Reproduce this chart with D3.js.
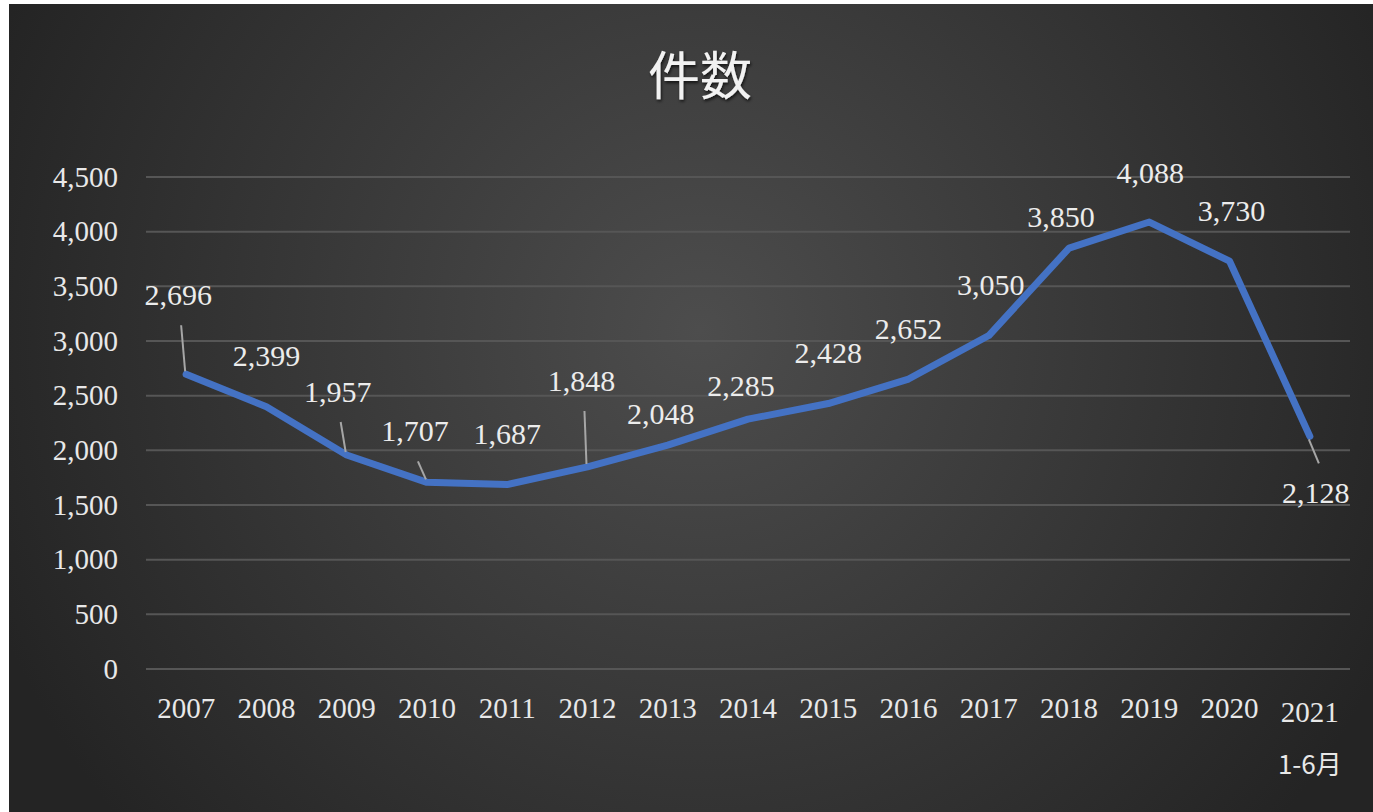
<!DOCTYPE html>
<html>
<head>
<meta charset="utf-8">
<script src="https://cdn.jsdelivr.net/npm/d3@7"></script>
<style>
  body { margin: 0; background: #ffffff; }
  svg { display: block; }
</style>
</head>
<body>
<div id="chart"></div>
<script>
// data
const years = ["2007", "2008", "2009", "2010", "2011", "2012", "2013", "2014",
               "2015", "2016", "2017", "2018", "2019", "2020", "2021"];
const counts = [2696, 2399, 1957, 1707, 1687, 1848, 2048, 2285,
                2428, 2652, 3050, 3850, 4088, 3730, 2128];
const yTicks = [0, 500, 1000, 1500, 2000, 2500, 3000, 3500, 4000, 4500];
const title = "件数";
const lastSub = "1-6月";

// label placement (dx, dy from the point, leader line or not)
const labelPos = [
  [-8, -79, true], [0, -51, false], [-9, -63, true], [-12, -51, true],
  [0, -50, false], [-6, -86, true], [-7, -31, false], [-7, -33, false],
  [0, -50, false], [0, -50, false], [2, -50, false], [-8, -31, false],
  [1, -49, false], [2, -50, false], [6, 57, true]
];

const W = 1373, H = 812;
const margin = { left: 146, right: 23, top: 177, bottom: 143 };

const svg = d3.select("#chart").append("svg")
  .attr("width", W).attr("height", H);

const defs = svg.append("defs");
const grad = defs.append("radialGradient")
  .attr("id", "bg")
  .attr("gradientUnits", "userSpaceOnUse")
  .attr("cx", 700).attr("cy", 330).attr("r", 760);
grad.append("stop").attr("offset", "0%").attr("stop-color", "#4d4d4d");
grad.append("stop").attr("offset", "100%").attr("stop-color", "#242424");

const shadow = defs.append("filter").attr("id", "sh")
  .attr("x", "-20%").attr("y", "-20%").attr("width", "140%").attr("height", "140%");
shadow.append("feDropShadow")
  .attr("dx", 1).attr("dy", 2).attr("stdDeviation", 1.5)
  .attr("flood-color", "#000").attr("flood-opacity", 0.7);

svg.append("rect")
  .attr("x", 9).attr("y", 4).attr("width", W - 9).attr("height", H - 4)
  .attr("fill", "url(#bg)");

const x = d3.scaleBand()
  .domain(years)
  .range([margin.left, W - margin.right]);

const y = d3.scaleLinear()
  .domain([0, 4500])
  .range([H - margin.bottom, margin.top]);

const cx = d => x(d) + x.bandwidth() / 2;

// grid lines
svg.append("g")
  .selectAll("line")
  .data(yTicks)
  .join("line")
  .attr("x1", margin.left).attr("x2", W - margin.right)
  .attr("y1", d => y(d)).attr("y2", d => y(d))
  .attr("stroke", "#565656")
  .attr("stroke-width", 2);

const fontNum = "'Liberation Serif', 'DejaVu Serif', serif";
const fontCjk = "'Noto Sans CJK JP', 'Noto Sans CJK SC', sans-serif";

// y axis labels
svg.append("g")
  .selectAll("text")
  .data(yTicks)
  .join("text")
  .attr("x", 118)
  .attr("y", d => y(d))
  .attr("dy", "0.33em")
  .attr("text-anchor", "end")
  .attr("fill", "#e8e8e8")
  .style("font-family", fontNum)
  .style("font-size", "29px")
  .text(d => d3.format(",")(d));

// x axis labels
svg.append("g")
  .selectAll("text")
  .data(years)
  .join("text")
  .attr("x", d => cx(d))
  .attr("y", (d, i) => i === years.length - 1 ? 712 : 708)
  .attr("dy", "0.33em")
  .attr("text-anchor", "middle")
  .attr("fill", "#e8e8e8")
  .style("font-family", fontNum)
  .style("font-size", "29px")
  .text(d => d);

svg.append("text")
  .attr("x", cx(years[years.length - 1]))
  .attr("y", 765)
  .attr("dy", "0.35em")
  .attr("text-anchor", "middle")
  .attr("fill", "#e8e8e8")
  .style("font-family", fontCjk)
  .style("font-size", "26px")
  .text(lastSub);

// line
const line = d3.line()
  .x(d => cx(d[0]))
  .y(d => y(d[1]));

const pts = years.map((yr, i) => [yr, counts[i]]);

svg.append("path")
  .datum(pts)
  .attr("d", line)
  .attr("fill", "none")
  .attr("stroke", "#4472c4")
  .attr("stroke-width", 7)
  .attr("stroke-linejoin", "round")
  .attr("stroke-linecap", "round");

// leader lines
svg.append("g")
  .selectAll("line")
  .data(pts.filter((d, i) => labelPos[i][2]))
  .join("line")
  .each(function(d) {
    const i = years.indexOf(d[0]);
    const [dx, dy] = labelPos[i];
    const px = cx(d[0]), py = y(d[1]);
    const sign = dy < 0 ? 1 : -1;
    d3.select(this)
      .attr("x1", px - 1).attr("y1", py - sign * 3)
      .attr("x2", px + dx + 3).attr("y2", py + dy + sign * 30);
  })
  .attr("stroke", "#a6a6a6")
  .attr("stroke-width", 2);

// data labels
svg.append("g")
  .selectAll("text")
  .data(pts)
  .join("text")
  .attr("x", (d, i) => cx(d[0]) + labelPos[i][0])
  .attr("y", (d, i) => y(d[1]) + labelPos[i][1])
  .attr("dy", "0.33em")
  .attr("text-anchor", "middle")
  .attr("fill", "#ececec")
  .style("font-family", fontNum)
  .style("font-size", "30px")
  .text(d => d3.format(",")(d[1]));

// title
svg.append("text")
  .attr("x", 700)
  .attr("y", 77)
  .attr("dy", "0.35em")
  .attr("text-anchor", "middle")
  .attr("fill", "#f2f2f2")
  .attr("filter", "url(#sh)")
  .style("font-family", fontCjk)
  .style("font-size", "52px")
  .text(title);
</script>
</body>
</html>
